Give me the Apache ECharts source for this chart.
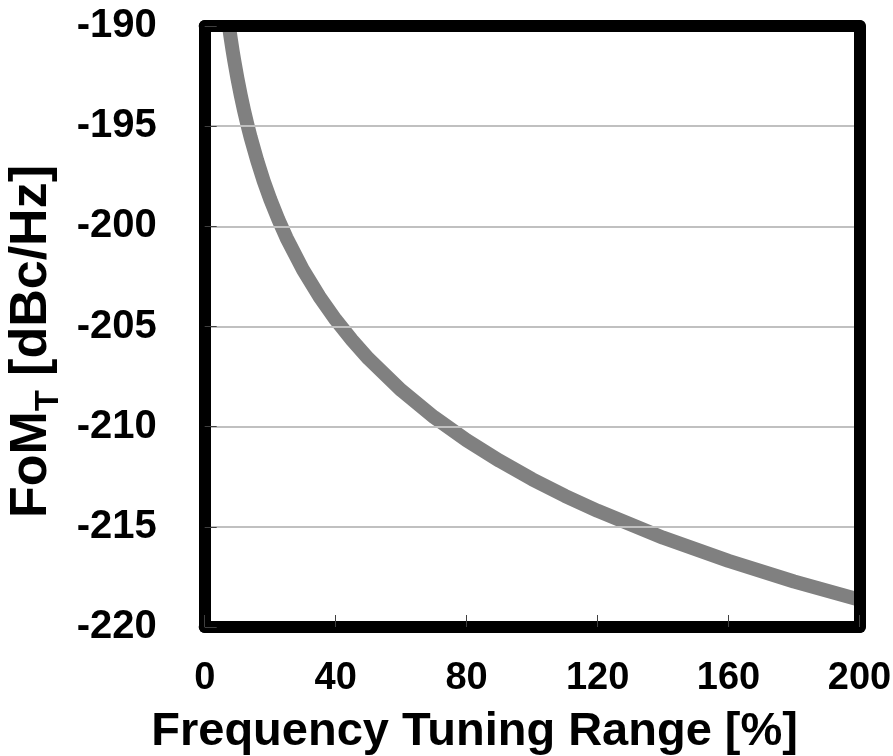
<!DOCTYPE html>
<html>
<head>
<meta charset="utf-8">
<style>
  html, body { margin: 0; padding: 0; background: #ffffff; }
  #chart { width: 893px; height: 756px; }
</style>
<script src="https://cdn.jsdelivr.net/npm/echarts@6/dist/echarts.min.js"></script>
</head>
<body>
<div id="chart"></div>
<script>
// Frequency tuning range [%]
const tuningRange = [7.4, 8, 8.5, 9, 10, 11, 12, 13, 14, 16, 18, 20, 22.5, 25, 30, 35, 40,
  45, 50, 60, 70, 80, 90, 100, 110, 120, 140, 160, 180, 200];
// FoM_T [dBc/Hz]
const fomT = [-190.00, -190.68, -191.21, -191.70, -192.62, -193.45, -194.20, -194.90, -195.54,
  -196.70, -197.73, -198.64, -199.66, -200.58, -202.16, -203.50, -204.66, -205.68, -206.60,
  -208.18, -209.52, -210.68, -211.70, -212.62, -213.45, -214.20, -215.54, -216.70, -217.73, -218.64];

const xTicks = [0, 40, 80, 120, 160, 200];
const yTicks = [-220, -215, -210, -205, -200, -195, -190];

const FONT = '"Liberation Sans", Arial, sans-serif';
const FRAME = { show: true, onZero: false, lineStyle: { color: '#000', width: 12, cap: 'round' } };

const chart = echarts.init(document.getElementById('chart'), null, { renderer: 'canvas' });

chart.setOption({
  animation: false,
  backgroundColor: '#ffffff',
  grid: { left: 204.7, top: 26, right: 33.5, bottom: 129, containLabel: false, outerBoundsMode: 'none' },
  xAxis: [
    {
      type: 'value',
      min: xTicks[0], max: xTicks[xTicks.length - 1], interval: 40,
      z: 5,
      axisLine: FRAME,
      axisTick: { show: true, inside: true, length: 12, lineStyle: { color: '#404040', width: 1 } },
      splitLine: { show: false },
      axisLabel: { margin: 33, color: '#000', fontFamily: FONT, fontWeight: 'bold', fontSize: 38, lineHeight: 38 },
      name: 'Frequency Tuning Range [%]',
      nameLocation: 'middle',
      nameGap: 82,
      nameTextStyle: { color: '#000', fontFamily: FONT, fontWeight: 'bold', fontSize: 47, lineHeight: 47, padding: [0, 115, 0, 0] }
    },
    {
      type: 'value', position: 'top',
      min: xTicks[0], max: xTicks[xTicks.length - 1], interval: 40,
      z: 5,
      axisLine: FRAME, axisTick: { show: false }, axisLabel: { show: false }, splitLine: { show: false }
    }
  ],
  yAxis: [
    {
      type: 'value',
      min: yTicks[0], max: yTicks[yTicks.length - 1], interval: 5,
      z: 5,
      axisLine: FRAME,
      axisTick: { show: true, inside: true, length: 12, lineStyle: { color: '#404040', width: 1 } },
      splitLine: { show: true, lineStyle: { color: '#c0c0c0', width: 2 } },
      axisLabel: { margin: 48, color: '#000', fontFamily: FONT, fontWeight: 'bold', fontSize: 40 },
      name: '{m|FoM}{s|T}{m| [dBc/Hz]}',
      nameLocation: 'middle',
      nameRotate: 90,
      nameGap: 136,
      nameTextStyle: {
        color: '#000', fontFamily: FONT, fontWeight: 'bold', padding: [0, 30, 0, 0],
        rich: {
          m: { fontSize: 52, fontFamily: FONT, fontWeight: 'bold', color: '#000', lineHeight: 60, verticalAlign: 'top' },
          s: { fontSize: 34, fontFamily: FONT, fontWeight: 'bold', color: '#000', lineHeight: 23, verticalAlign: 'bottom' }
        }
      }
    },
    {
      type: 'value', position: 'right',
      min: yTicks[0], max: yTicks[yTicks.length - 1], interval: 5,
      z: 5,
      axisLine: FRAME, axisTick: { show: false }, axisLabel: { show: false }, splitLine: { show: false }
    }
  ],
  series: [
    {
      type: 'line',
      data: tuningRange.map((x, i) => [x, fomT[i]]),
      smooth: false,
      showSymbol: false,
      clip: true,
      lineStyle: { color: '#808080', width: 14, join: 'round' },
      z: 2
    }
  ]
});
</script>
</body>
</html>
